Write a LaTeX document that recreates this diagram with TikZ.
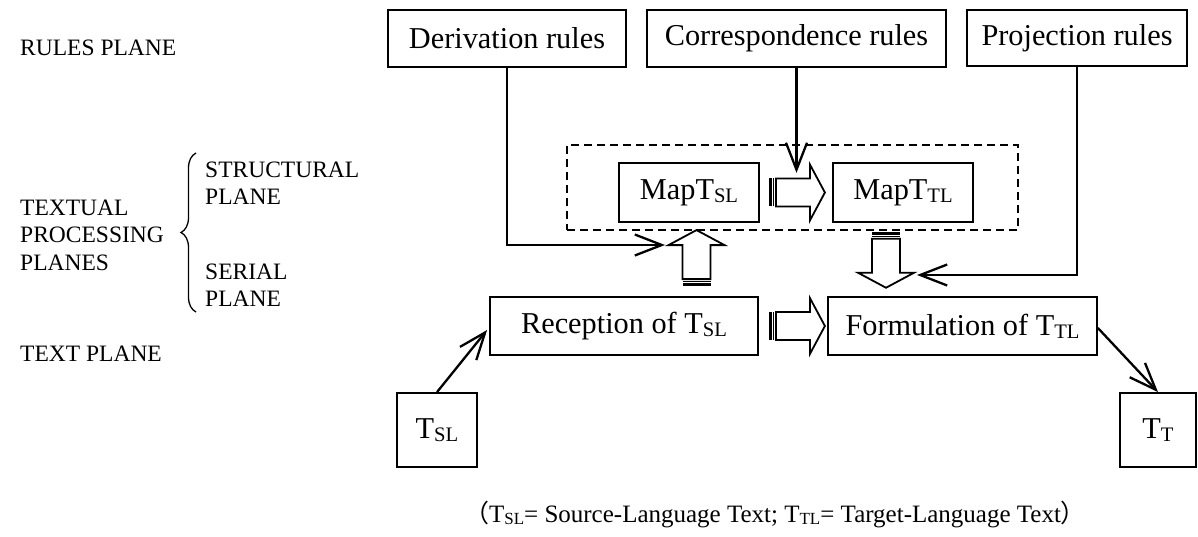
\documentclass[tikz,border=0pt]{standalone}
\usepackage{fontspec}
\setmainfont{Liberation Serif}
\newfontfamily\cjkfont{Noto Sans CJK SC}
\usetikzlibrary{arrows.meta,calc,decorations.pathreplacing}

% subscripts set the way a word processor sets them
\newcommand\sbs[1]{\raisebox{-0.1em}{\scalebox{0.68}{#1}}}
\newcommand\boxfont{\fontsize{30.3}{34}\selectfont}
\newcommand\sidefont{\fontsize{23.5}{27.5}\selectfont}

\tikzset{
  box/.style={draw, line width=1.8pt, inner sep=0pt, font=\boxfont, anchor=center},
  conn/.style={line width=2.3pt, -{Straight Barb[length=27pt,width=21pt]}},
  side/.style={font=\sidefont, anchor=west, align=left, inner sep=0pt},
  blk/.style={line width=1.8pt, fill=white, line join=miter},
  groupbox/.style={draw, line width=1.5pt, dash pattern=on 8pt off 5pt, inner sep=0pt},
}

% hollow block arrow with a striped tail; #1 = tail point, #2 = direction
\newcommand\blockarrow[2]{%
  \begin{scope}[shift={(#1)}, rotate=#2]
    \draw[blk] (8,14) -- (42,14) -- (42,28) -- (57,0) -- (42,-28) -- (42,-14) -- (8,-14) -- cycle;
    \draw[line width=1.2pt] (5.5,14) -- (5.5,-14);
    \draw[line width=3pt] (2.5,14) -- (2.5,-14);
  \end{scope}}

\begin{document}
\begin{tikzpicture}[x=1pt, y=-1pt]
\useasboundingbox (0,0) rectangle (1198,537);

% plane labels
\node[side] (rules)   at (20,48)  {RULES PLANE};
\node[side] (textual) at (20,235) {TEXTUAL\\PROCESSING\\PLANES};
\node[side] (struct)  at (205,183) {STRUCTURAL\\PLANE};
\node[side] (serial)  at (205,285) {SERIAL\\PLANE};
\node[side] (textpl)  at (20,354) {TEXT PLANE};
\draw[line width=1.3pt, decorate, decoration={brace, amplitude=15pt}] (196,312) -- (196,153);

% rules plane
\node[box, minimum width=238pt, minimum height=57pt] (deriv) at (507,38.5)   {Derivation rules};
\node[box, minimum width=299pt, minimum height=57pt] (corr)  at (796.5,38.5) {Correspondence rules};
\node[box, minimum width=220pt, minimum height=56pt] (proj)  at (1077,38)    {Projection rules};

% structural plane
\node[groupbox, minimum width=451pt, minimum height=85pt] (dash) at (792.5,187.5) {};
\node[box, minimum width=140pt, minimum height=59pt] (mapsl) at (689,192.5) {MapT\sbs{SL}};
\node[box, minimum width=140pt, minimum height=59pt] (maptl) at (903,192.5) {MapT\sbs{TL}};

% serial / text plane
\node[box, minimum width=268pt, minimum height=58pt] (recep) at (624,326)   {Reception of T\sbs{SL}};
\node[box, minimum width=269pt, minimum height=58pt] (form)  at (962.5,326) {Formulation of T\sbs{TL}};
\node[box, minimum width=80pt, minimum height=74pt]  (tsl)   at (437,430)    {T\sbs{SL}};
\node[box, minimum width=76pt, minimum height=74pt]  (tt)    at (1158,430)   {T\sbs{T}};

% block arrows
\coordinate (a1) at ($(mapsl.east)+(8,0)$);
\coordinate (a2) at ($(recep.east)+(9,0)$);
\coordinate (a3) at ($(recep.north)+(72.5,-9)$);
\coordinate (a4) at ($(dash.south)+(93.5,0)$);
\blockarrow{a1}{0}
\blockarrow{a2}{0}
\blockarrow{a3}{90}
\blockarrow{a4}{-90}

% rule connectors
\coordinate (dtip) at (665,245);
\coordinate (ctip) at ($(corr.south)+(0,105)$);
\coordinate (ptip) at (917,275);
\draw[conn] (deriv.south) |- (dtip);
\draw[conn] (corr.south) -- (ctip);
\draw[conn] (proj.south) |- (ptip);

% text connectors
\draw[conn] (tsl.north) -- ($(recep.west)+(-2,4)$);
\draw[conn] ($(form.east)+(0,2)$) -- (tt.north);

% legend
\node[font=\fontsize{25}{30}\selectfont, inner sep=0pt] (note) at (775,514)
  {{\cjkfont （}T\sbs{SL}= Source-Language Text; T\sbs{TL}= Target-Language Text{\cjkfont ）}};
\end{tikzpicture}
\end{document}
